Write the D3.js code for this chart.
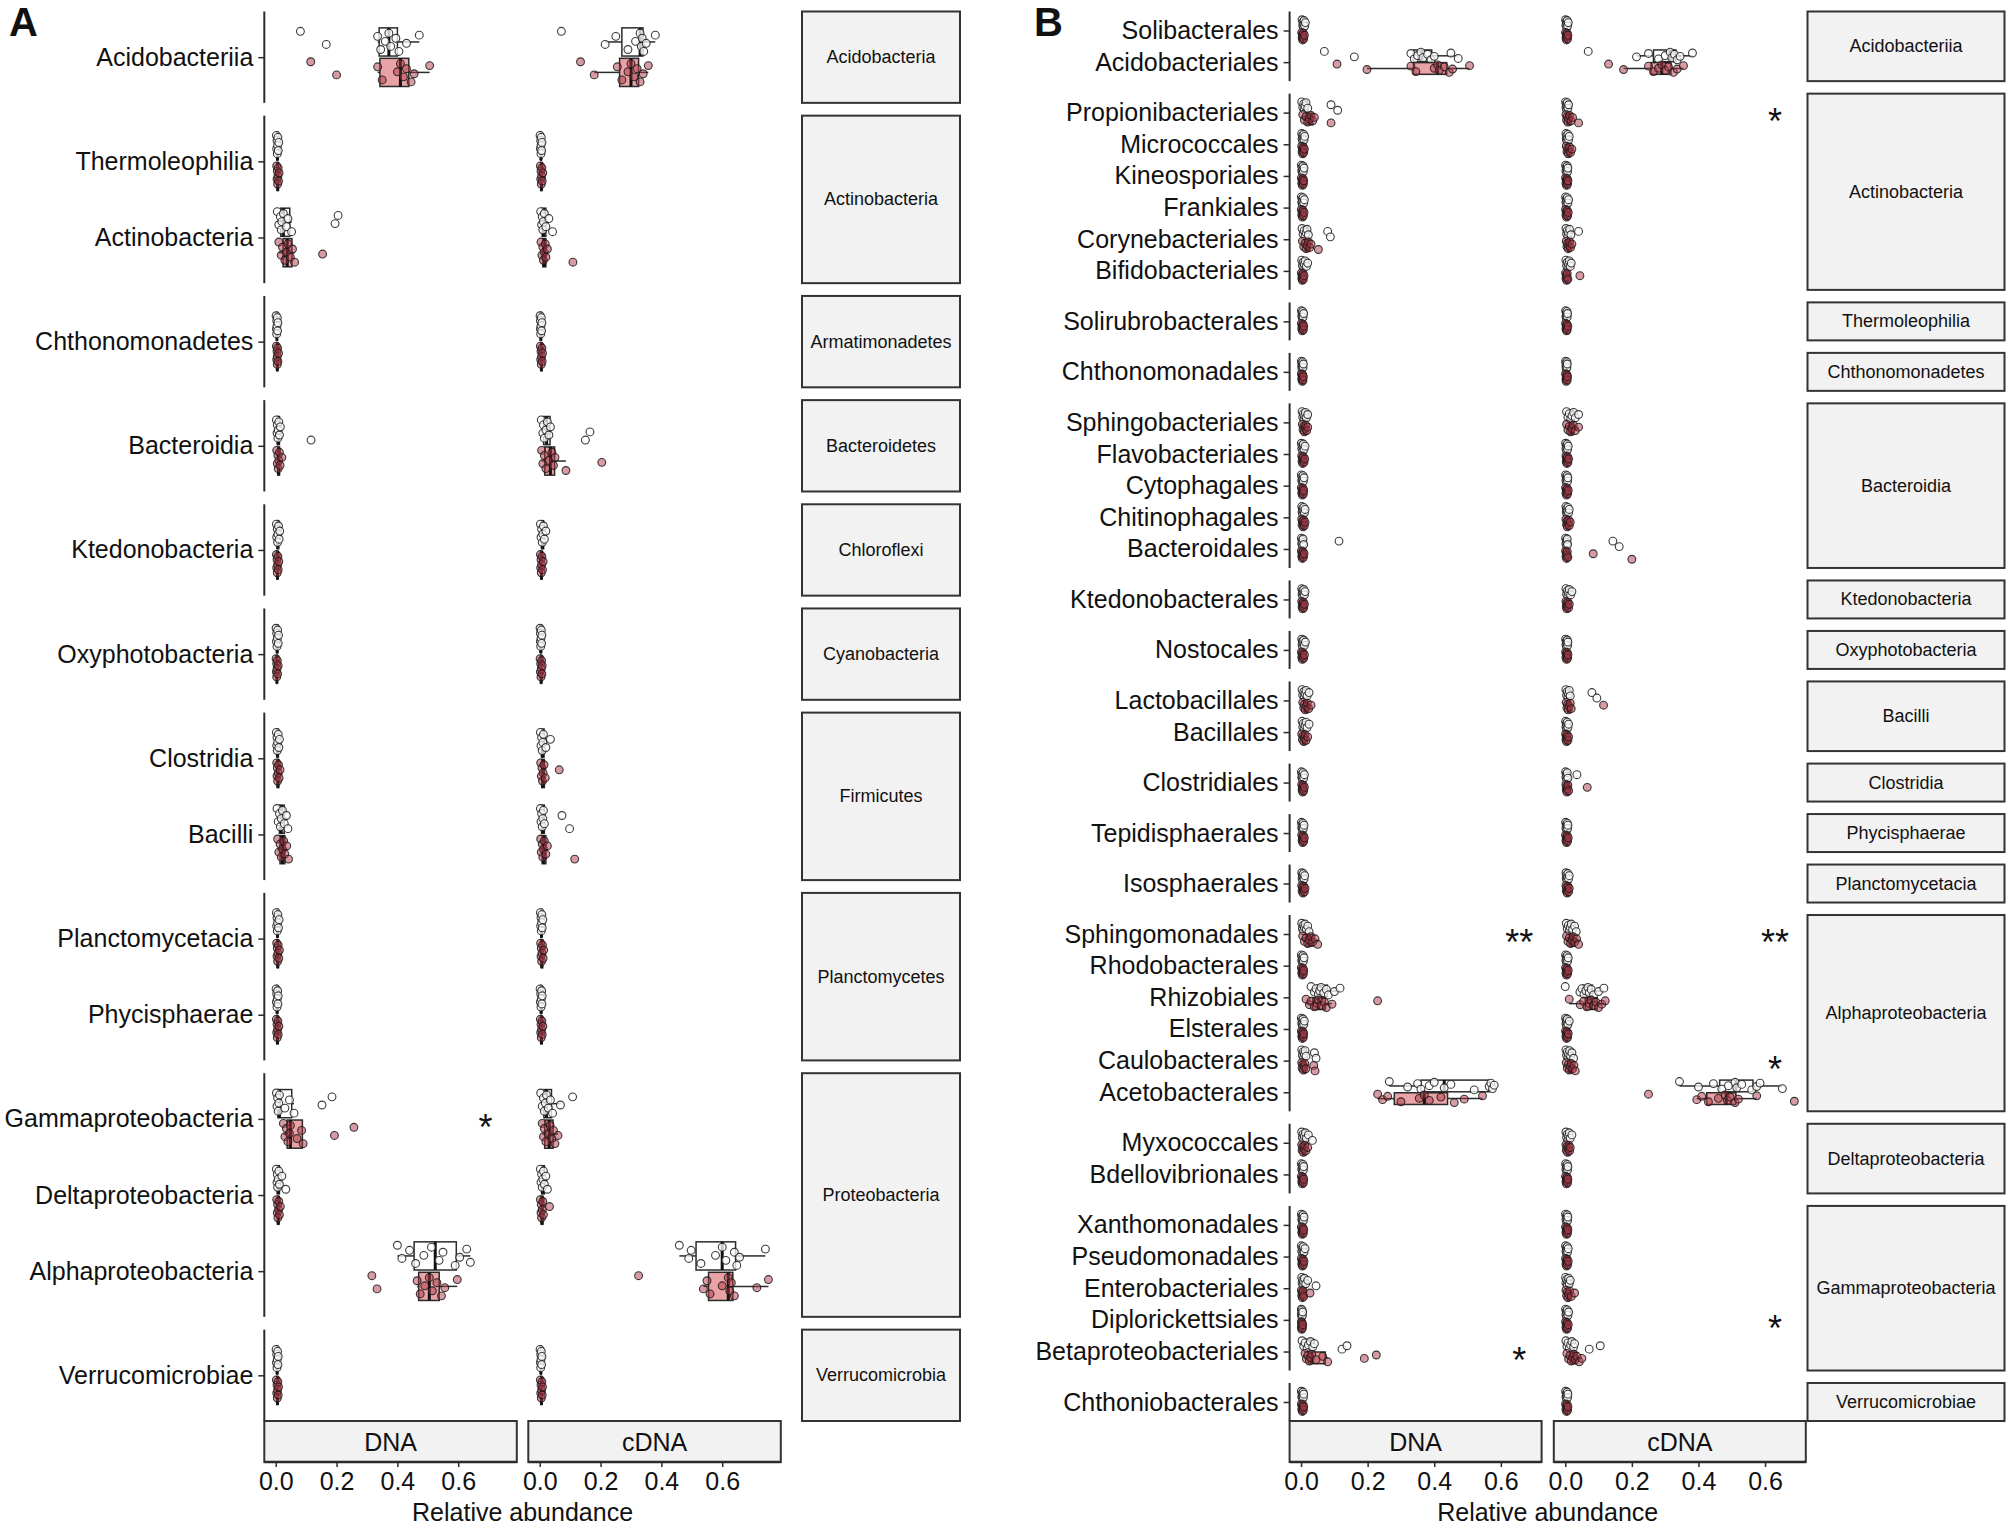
<!DOCTYPE html>
<html lang="en">
	<head>
		<meta charset="utf-8">
		<title>Relative abundance of classes and orders, DNA vs cDNA</title>
		<script type="text/javascript" src="https://cdn.jsdelivr.net/npm/d3@7/dist/d3.min.js"></script>
		<style type="text/css">
			body { margin: 0; background: #fff; }
			text { font-family: "Liberation Sans", Arial, sans-serif; fill: #111; }
		</style>
	</head>
	<body>
		<script type="text/javascript">

			//Width and height
			var w = 2013;
			var h = 1534;

			var nucleic = ["DNA", "cDNA"];
			var xTicks = [0, 0.2, 0.4, 0.6];

			// ---------- Panel A : classes ----------
			var classesA = ["Acidobacteriia", "Thermoleophilia", "Actinobacteria", "Chthonomonadetes", "Bacteroidia",
							"Ktedonobacteria", "Oxyphotobacteria", "Clostridia", "Bacilli", "Planctomycetacia",
							"Phycisphaerae", "Gammaproteobacteria", "Deltaproteobacteria", "Alphaproteobacteria", "Verrucomicrobiae"];
			var phylumA = ["Acidobacteria", "Actinobacteria", "Actinobacteria", "Armatimonadetes", "Bacteroidetes",
						   "Chloroflexi", "Cyanobacteria", "Firmicutes", "Firmicutes", "Planctomycetes",
						   "Planctomycetes", "Proteobacteria", "Proteobacteria", "Proteobacteria", "Verrucomicrobia"];

			// open (white) samples, DNA
			var dnaOpenA = [
				[0.081,0.166,0.335,0.345,0.36,0.372,0.378,0.395,0.405,0.43,0.472],
				[0.002,0.003,0.004,0.005,0.006,0.007,0.008,0.01],
				[0.005,0.01,0.015,0.018,0.02,0.025,0.035,0.04,0.052,0.195,0.205],
				[0.001,0.002,0.003,0.003,0.004,0.005,0.006,0.007],
				[0.002,0.004,0.005,0.007,0.008,0.01,0.012,0.015,0.116],
				[0.002,0.003,0.005,0.006,0.007,0.009,0.011,0.013],
				[0.001,0.002,0.003,0.004,0.005,0.006,0.008,0.009],
				[0.002,0.003,0.004,0.005,0.006,0.008,0.01,0.012],
				[0.004,0.008,0.012,0.015,0.018,0.022,0.028,0.035,0.04],
				[0.002,0.003,0.004,0.005,0.006,0.007,0.009,0.011],
				[0.001,0.002,0.003,0.004,0.005,0.006,0.007,0.008],
				[0.002,0.004,0.006,0.008,0.01,0.012,0.03,0.045,0.06,0.152,0.185],
				[0.002,0.004,0.005,0.006,0.008,0.01,0.012,0.02,0.033],
				[0.40,0.415,0.44,0.46,0.487,0.512,0.537,0.55,0.59,0.605,0.628,0.64],
				[0.001,0.002,0.003,0.004,0.005,0.006,0.007,0.008]
			];
			// filled (pink) samples, DNA
			var dnaFillA = [
				[0.115,0.20,0.335,0.35,0.40,0.41,0.42,0.43,0.445,0.455,0.506],
				[0.003,0.004,0.005,0.006,0.007,0.008,0.009,0.011],
				[0.01,0.018,0.022,0.03,0.035,0.04,0.048,0.055,0.062,0.154],
				[0.002,0.003,0.004,0.005,0.005,0.006,0.007,0.009],
				[0.003,0.005,0.007,0.008,0.01,0.012,0.014,0.02],
				[0.002,0.003,0.004,0.005,0.006,0.007,0.008,0.01],
				[0.001,0.002,0.003,0.003,0.004,0.005,0.006,0.008],
				[0.003,0.004,0.005,0.006,0.008,0.009,0.011,0.014],
				[0.006,0.01,0.014,0.018,0.022,0.026,0.03,0.036,0.042],
				[0.003,0.004,0.005,0.006,0.007,0.008,0.01,0.012],
				[0.002,0.003,0.004,0.005,0.006,0.007,0.008,0.01],
				[0.025,0.03,0.035,0.04,0.045,0.048,0.07,0.085,0.09,0.193,0.257],
				[0.003,0.005,0.006,0.007,0.009,0.01,0.012,0.015],
				[0.316,0.333,0.465,0.475,0.49,0.505,0.515,0.53,0.545,0.556,0.597],
				[0.002,0.003,0.004,0.005,0.006,0.007,0.008,0.009]
			];
			var cdnaOpenA = [
				[0.071,0.215,0.25,0.29,0.315,0.33,0.334,0.337,0.342,0.35,0.38],
				[0.001,0.002,0.003,0.004,0.004,0.005,0.006,0.007],
				[0.003,0.006,0.008,0.01,0.012,0.015,0.02,0.03,0.042],
				[0.001,0.002,0.002,0.003,0.004,0.005,0.006,0.007],
				[0.005,0.01,0.012,0.015,0.02,0.025,0.03,0.035,0.15,0.165],
				[0.002,0.004,0.006,0.008,0.01,0.012,0.015,0.02],
				[0.001,0.002,0.002,0.003,0.004,0.005,0.006,0.007],
				[0.002,0.004,0.006,0.008,0.01,0.012,0.02,0.035],
				[0.002,0.004,0.006,0.008,0.01,0.012,0.015,0.073,0.098],
				[0.002,0.003,0.004,0.005,0.006,0.007,0.008,0.01],
				[0.001,0.002,0.003,0.004,0.005,0.006,0.007,0.008],
				[0.003,0.008,0.012,0.015,0.018,0.022,0.028,0.035,0.042,0.068,0.108],
				[0.002,0.004,0.006,0.008,0.01,0.012,0.015,0.02,0.025],
				[0.459,0.49,0.498,0.53,0.578,0.60,0.612,0.64,0.648,0.657,0.742],
				[0.001,0.002,0.003,0.003,0.004,0.005,0.006,0.007]
			];
			var cdnaFillA = [
				[0.134,0.179,0.255,0.27,0.29,0.30,0.31,0.32,0.33,0.34,0.357],
				[0.002,0.003,0.004,0.005,0.006,0.007,0.008,0.01],
				[0.004,0.007,0.01,0.012,0.015,0.018,0.02,0.025,0.109],
				[0.002,0.003,0.004,0.005,0.006,0.007,0.008,0.009],
				[0.006,0.01,0.015,0.02,0.03,0.04,0.045,0.05,0.086,0.204],
				[0.002,0.003,0.004,0.005,0.006,0.007,0.009,0.011],
				[0.001,0.002,0.003,0.004,0.005,0.006,0.007,0.008],
				[0.003,0.005,0.007,0.009,0.011,0.014,0.018,0.064],
				[0.003,0.005,0.008,0.01,0.012,0.015,0.02,0.025,0.115],
				[0.003,0.004,0.005,0.006,0.007,0.009,0.011,0.013],
				[0.002,0.003,0.004,0.005,0.006,0.007,0.008,0.01],
				[0.008,0.012,0.015,0.02,0.028,0.034,0.04,0.045,0.05,0.06],
				[0.002,0.004,0.005,0.006,0.008,0.01,0.012,0.032],
				[0.325,0.538,0.55,0.56,0.6,0.62,0.625,0.63,0.64,0.714,0.752],
				[0.002,0.003,0.004,0.005,0.006,0.007,0.008,0.009]
			];
			var starsA = [["Gammaproteobacteria", "DNA", "*"]];

			// ---------- Panel B : orders ----------
			var ordersB = ["Solibacterales", "Acidobacteriales", "Propionibacteriales", "Micrococcales", "Kineosporiales",
						   "Frankiales", "Corynebacteriales", "Bifidobacteriales", "Solirubrobacterales", "Chthonomonadales",
						   "Sphingobacteriales", "Flavobacteriales", "Cytophagales", "Chitinophagales", "Bacteroidales",
						   "Ktedonobacterales", "Nostocales", "Lactobacillales", "Bacillales", "Clostridiales",
						   "Tepidisphaerales", "Isosphaerales", "Sphingomonadales", "Rhodobacterales", "Rhizobiales",
						   "Elsterales", "Caulobacterales", "Acetobacterales", "Myxococcales", "Bdellovibrionales",
						   "Xanthomonadales", "Pseudomonadales", "Enterobacteriales", "Diplorickettsiales", "Betaproteobacteriales",
						   "Chthoniobacterales"];
			var classB = ["Acidobacteriia", "Acidobacteriia", "Actinobacteria", "Actinobacteria", "Actinobacteria",
						  "Actinobacteria", "Actinobacteria", "Actinobacteria", "Thermoleophilia", "Chthonomonadetes",
						  "Bacteroidia", "Bacteroidia", "Bacteroidia", "Bacteroidia", "Bacteroidia",
						  "Ktedonobacteria", "Oxyphotobacteria", "Bacilli", "Bacilli", "Clostridia",
						  "Phycisphaerae", "Planctomycetacia", "Alphaproteobacteria", "Alphaproteobacteria", "Alphaproteobacteria",
						  "Alphaproteobacteria", "Alphaproteobacteria", "Alphaproteobacteria", "Deltaproteobacteria", "Deltaproteobacteria",
						  "Gammaproteobacteria", "Gammaproteobacteria", "Gammaproteobacteria", "Gammaproteobacteria", "Gammaproteobacteria",
						  "Verrucomicrobiae"];

			var dnaOpenB = [
				[0.003,0.005,0.006,0.007,0.008,0.009,0.011,0.013],
				[0.07,0.16,0.33,0.34,0.35,0.36,0.366,0.38,0.39,0.40,0.45,0.472],
				[0.002,0.005,0.008,0.01,0.012,0.015,0.02,0.09,0.11],
				[0.002,0.003,0.004,0.005,0.006,0.008,0.009,0.011],
				[0.001,0.002,0.003,0.004,0.005,0.006,0.007,0.009],
				[0.001,0.002,0.003,0.004,0.005,0.006,0.008,0.01],
				[0.003,0.006,0.009,0.012,0.015,0.018,0.022,0.08,0.088],
				[0.002,0.004,0.006,0.008,0.01,0.012,0.016,0.02],
				[0.001,0.002,0.003,0.004,0.005,0.005,0.006,0.008],
				[0.001,0.002,0.002,0.003,0.004,0.005,0.006,0.007],
				[0.003,0.005,0.007,0.009,0.011,0.013,0.016,0.02],
				[0.001,0.002,0.003,0.005,0.006,0.007,0.009,0.012],
				[0.001,0.002,0.003,0.004,0.005,0.006,0.007,0.009],
				[0.002,0.003,0.004,0.005,0.006,0.008,0.01,0.012],
				[0.001,0.002,0.003,0.004,0.005,0.006,0.008,0.114],
				[0.002,0.003,0.004,0.005,0.006,0.008,0.01,0.012],
				[0.002,0.003,0.004,0.005,0.006,0.008,0.01,0.013],
				[0.003,0.005,0.008,0.01,0.012,0.015,0.018,0.024],
				[0.003,0.005,0.007,0.009,0.012,0.015,0.018,0.024],
				[0.001,0.002,0.003,0.004,0.005,0.006,0.008,0.01],
				[0.001,0.002,0.003,0.004,0.005,0.006,0.007,0.009],
				[0.002,0.003,0.004,0.005,0.006,0.007,0.009,0.011],
				[0.002,0.004,0.006,0.008,0.01,0.012,0.016,0.02,0.024],
				[0.001,0.002,0.003,0.004,0.005,0.006,0.007,0.009],
				[0.03,0.04,0.045,0.052,0.056,0.06,0.068,0.076,0.082,0.1,0.117],
				[0.001,0.002,0.003,0.004,0.005,0.006,0.008,0.01],
				[0.002,0.004,0.006,0.008,0.01,0.012,0.015,0.04,0.045],
				[0.265,0.32,0.35,0.36,0.385,0.40,0.43,0.45,0.52,0.565,0.57,0.575,0.58],
				[0.002,0.004,0.006,0.008,0.01,0.013,0.016,0.022,0.034],
				[0.001,0.002,0.003,0.004,0.005,0.006,0.007,0.008],
				[0.001,0.002,0.003,0.004,0.005,0.006,0.007,0.009],
				[0.001,0.002,0.003,0.005,0.006,0.007,0.009,0.012],
				[0.002,0.003,0.005,0.006,0.008,0.01,0.014,0.02,0.045],
				[0.001,0.001,0.002,0.002,0.003,0.003,0.004,0.005],
				[0.003,0.008,0.012,0.018,0.022,0.028,0.035,0.04,0.123,0.138],
				[0.001,0.002,0.003,0.004,0.005,0.006,0.007,0.008]
			];
			var dnaFillB = [
				[0.002,0.003,0.004,0.005,0.006,0.007,0.008,0.01],
				[0.108,0.198,0.33,0.345,0.40,0.41,0.415,0.43,0.445,0.455,0.506],
				[0.005,0.01,0.015,0.02,0.025,0.03,0.035,0.04,0.09],
				[0.002,0.003,0.004,0.005,0.006,0.007,0.008,0.01],
				[0.001,0.002,0.003,0.004,0.005,0.006,0.007,0.008],
				[0.001,0.002,0.003,0.004,0.005,0.006,0.007,0.009],
				[0.004,0.008,0.012,0.015,0.018,0.022,0.026,0.03,0.052],
				[0.001,0.002,0.003,0.004,0.005,0.006,0.007,0.009],
				[0.001,0.002,0.003,0.004,0.005,0.006,0.007,0.008],
				[0.001,0.002,0.003,0.004,0.004,0.005,0.006,0.007],
				[0.004,0.006,0.008,0.01,0.012,0.014,0.017,0.02],
				[0.002,0.003,0.004,0.005,0.006,0.007,0.009,0.011],
				[0.001,0.002,0.003,0.004,0.005,0.006,0.007,0.008],
				[0.002,0.003,0.004,0.006,0.007,0.008,0.01,0.012],
				[0.001,0.002,0.003,0.004,0.005,0.006,0.007,0.009],
				[0.002,0.003,0.004,0.005,0.006,0.007,0.008,0.01],
				[0.001,0.002,0.003,0.004,0.005,0.006,0.008,0.01],
				[0.005,0.008,0.01,0.013,0.016,0.019,0.023,0.03],
				[0.002,0.004,0.006,0.008,0.01,0.012,0.015,0.02],
				[0.002,0.003,0.004,0.005,0.006,0.007,0.008,0.01],
				[0.002,0.003,0.004,0.005,0.006,0.007,0.008,0.01],
				[0.002,0.003,0.004,0.006,0.007,0.008,0.01,0.012],
				[0.005,0.01,0.015,0.02,0.025,0.03,0.035,0.042,0.05],
				[0.001,0.002,0.003,0.004,0.005,0.006,0.007,0.008],
				[0.015,0.025,0.03,0.04,0.048,0.052,0.06,0.07,0.076,0.093,0.23],
				[0.001,0.002,0.003,0.004,0.005,0.006,0.007,0.008],
				[0.002,0.003,0.005,0.007,0.009,0.011,0.014,0.038,0.042],
				[0.23,0.245,0.26,0.30,0.355,0.37,0.385,0.42,0.46,0.49,0.545],
				[0.002,0.003,0.005,0.007,0.009,0.011,0.014,0.02],
				[0.001,0.002,0.003,0.004,0.005,0.006,0.007,0.008],
				[0.001,0.002,0.003,0.004,0.005,0.006,0.007,0.008],
				[0.001,0.002,0.003,0.004,0.005,0.006,0.007,0.009],
				[0.001,0.002,0.003,0.004,0.005,0.006,0.008,0.027],
				[0.001,0.001,0.002,0.002,0.003,0.003,0.004,0.005],
				[0.012,0.016,0.02,0.025,0.028,0.032,0.045,0.065,0.08,0.19,0.226],
				[0.001,0.002,0.003,0.004,0.005,0.006,0.007,0.008]
			];
			var cdnaOpenB = [
				[0.001,0.002,0.003,0.004,0.005,0.006,0.007,0.009],
				[0.069,0.214,0.25,0.28,0.30,0.315,0.32,0.328,0.336,0.345,0.382],
				[0.001,0.002,0.003,0.004,0.005,0.006,0.008,0.01],
				[0.002,0.003,0.004,0.005,0.006,0.008,0.01,0.012],
				[0.001,0.002,0.003,0.004,0.005,0.006,0.007,0.008],
				[0.001,0.002,0.003,0.004,0.005,0.006,0.008,0.01],
				[0.002,0.004,0.006,0.008,0.01,0.013,0.017,0.04],
				[0.002,0.004,0.006,0.008,0.01,0.012,0.015,0.018],
				[0.001,0.002,0.003,0.003,0.004,0.005,0.006,0.007],
				[0.001,0.002,0.002,0.003,0.004,0.005,0.005,0.006],
				[0.004,0.008,0.012,0.016,0.02,0.025,0.03,0.04],
				[0.001,0.002,0.003,0.004,0.005,0.006,0.007,0.009],
				[0.001,0.002,0.003,0.004,0.005,0.006,0.007,0.008],
				[0.002,0.003,0.004,0.005,0.006,0.008,0.01,0.012],
				[0.001,0.002,0.003,0.004,0.005,0.006,0.007,0.143,0.162],
				[0.002,0.004,0.006,0.008,0.01,0.012,0.016,0.02],
				[0.001,0.002,0.003,0.004,0.005,0.006,0.007,0.008],
				[0.002,0.004,0.006,0.008,0.01,0.012,0.015,0.08,0.095],
				[0.001,0.002,0.003,0.004,0.005,0.006,0.008,0.01],
				[0.001,0.002,0.003,0.004,0.005,0.006,0.008,0.035],
				[0.001,0.002,0.003,0.004,0.005,0.006,0.007,0.008],
				[0.002,0.003,0.004,0.005,0.006,0.008,0.01,0.012],
				[0.003,0.006,0.009,0.012,0.015,0.018,0.022,0.028,0.033],
				[0.001,0.002,0.003,0.004,0.005,0.006,0.007,0.009],
				[0.0,0.044,0.05,0.056,0.062,0.068,0.072,0.078,0.085,0.1,0.116],
				[0.001,0.002,0.003,0.004,0.005,0.006,0.008,0.012],
				[0.002,0.004,0.006,0.008,0.01,0.013,0.016,0.02,0.025],
				[0.343,0.40,0.445,0.47,0.49,0.51,0.515,0.53,0.56,0.575,0.585,0.652],
				[0.002,0.004,0.006,0.008,0.01,0.012,0.015,0.02],
				[0.001,0.002,0.003,0.004,0.005,0.006,0.007,0.008],
				[0.001,0.002,0.003,0.004,0.005,0.006,0.007,0.008],
				[0.001,0.002,0.003,0.004,0.005,0.006,0.007,0.009],
				[0.001,0.002,0.004,0.006,0.008,0.01,0.012,0.015],
				[0.001,0.002,0.003,0.004,0.005,0.006,0.008,0.01],
				[0.002,0.005,0.008,0.012,0.016,0.02,0.025,0.028,0.072,0.105],
				[0.001,0.002,0.003,0.004,0.005,0.006,0.007,0.008]
			];
			var cdnaFillB = [
				[0.001,0.002,0.003,0.004,0.005,0.006,0.007,0.008],
				[0.13,0.175,0.25,0.265,0.28,0.29,0.30,0.31,0.325,0.336,0.355],
				[0.002,0.004,0.006,0.008,0.01,0.013,0.017,0.022,0.04],
				[0.003,0.005,0.007,0.009,0.011,0.013,0.016,0.02],
				[0.001,0.002,0.003,0.004,0.005,0.006,0.007,0.008],
				[0.001,0.002,0.003,0.004,0.005,0.006,0.007,0.009],
				[0.003,0.005,0.007,0.009,0.011,0.013,0.016,0.02],
				[0.001,0.002,0.003,0.004,0.005,0.006,0.008,0.044],
				[0.001,0.002,0.003,0.004,0.004,0.005,0.006,0.008],
				[0.001,0.002,0.003,0.003,0.004,0.005,0.006,0.007],
				[0.004,0.008,0.012,0.016,0.02,0.024,0.03,0.04],
				[0.002,0.003,0.004,0.005,0.006,0.007,0.008,0.01],
				[0.001,0.002,0.003,0.004,0.005,0.006,0.007,0.009],
				[0.002,0.004,0.005,0.006,0.008,0.01,0.012,0.015],
				[0.001,0.002,0.003,0.004,0.005,0.006,0.008,0.084,0.2],
				[0.002,0.003,0.004,0.005,0.006,0.008,0.01,0.012],
				[0.001,0.002,0.003,0.004,0.005,0.006,0.007,0.008],
				[0.003,0.005,0.007,0.009,0.012,0.015,0.018,0.115],
				[0.001,0.002,0.003,0.004,0.005,0.006,0.008,0.01],
				[0.002,0.003,0.004,0.005,0.006,0.008,0.01,0.066],
				[0.001,0.002,0.003,0.004,0.005,0.006,0.007,0.009],
				[0.002,0.003,0.004,0.006,0.007,0.008,0.01,0.012],
				[0.004,0.008,0.012,0.016,0.02,0.024,0.028,0.034,0.04],
				[0.001,0.002,0.003,0.004,0.005,0.006,0.007,0.009],
				[0.012,0.045,0.055,0.065,0.072,0.078,0.085,0.092,0.1,0.11,0.12],
				[0.001,0.002,0.003,0.004,0.005,0.006,0.007,0.009],
				[0.003,0.006,0.009,0.012,0.015,0.018,0.022,0.026,0.03],
				[0.25,0.395,0.41,0.43,0.46,0.48,0.487,0.495,0.51,0.52,0.575,0.688],
				[0.002,0.003,0.005,0.007,0.009,0.011,0.013,0.015],
				[0.001,0.002,0.003,0.004,0.005,0.006,0.007,0.008],
				[0.001,0.002,0.003,0.004,0.005,0.006,0.007,0.008],
				[0.001,0.002,0.003,0.004,0.005,0.006,0.007,0.009],
				[0.002,0.004,0.006,0.008,0.01,0.013,0.018,0.028],
				[0.001,0.002,0.003,0.004,0.005,0.006,0.007,0.009],
				[0.005,0.01,0.014,0.018,0.022,0.026,0.03,0.035,0.042,0.05],
				[0.001,0.002,0.003,0.004,0.005,0.006,0.007,0.008]
			];
			var starsB = [["Propionibacteriales", "cDNA", "*"], ["Sphingomonadales", "DNA", "**"],
						  ["Sphingomonadales", "cDNA", "**"], ["Caulobacterales", "cDNA", "*"],
						  ["Diplorickettsiales", "cDNA", "*"], ["Betaproteobacteriales", "DNA", "*"]];

			//Create SVG element
			var svg = d3.select("body")
						.append("svg")
						.attr("width", w)
						.attr("height", h);

			var boxFill = "#e9a2a5";
			var pointFill = "#b03a48";
			var lineCol = "#2b2b2b";

			// quartiles and whisker ends, same rule as a ggplot boxplot
			function boxStats(vals) {
				var s = vals.slice().sort(d3.ascending);
				var q1 = d3.quantile(s, 0.25), med = d3.quantile(s, 0.5), q3 = d3.quantile(s, 0.75);
				var iqr = q3 - q1;
				var inside = s.filter(function(v) { return v >= q1 - 1.5 * iqr && v <= q3 + 1.5 * iqr; });
				return { q1: q1, med: med, q3: q3, lo: d3.min(inside), hi: d3.max(inside) };
			}

			function drawPanel(cfg) {
				var g = svg.append("g");

				// group the categories into facet rows, keeping order
				var rows = d3.groups(cfg.cats.map(function(c, i) { return { name: c, i: i, facet: cfg.facetOf[i] }; }),
									 function(d) { return d.facet; });
				var nCats = cfg.cats.length;
				var unit = (cfg.bottom - cfg.top - cfg.gapY * (rows.length - 1)) / (nCats + 0.2 * rows.length);

				// x scales for the DNA and cDNA columns
				var xScales = nucleic.map(function(n, k) {
					var x0 = cfg.left + k * (cfg.panelW + cfg.gapX);
					return d3.scaleLinear()
							 .domain([-0.05 * cfg.xMax, 1.05 * cfg.xMax])
							 .range([x0, x0 + cfg.panelW]);
				});
				var series = [[cfg.dnaOpen, cfg.dnaFill], [cfg.cdnaOpen, cfg.cdnaFill]];

				var yTop = cfg.top;
				var catY = {};
				rows.forEach(function(row) {
					var items = row[1];
					var ph = (items.length + 0.2) * unit;
					var yScale = d3.scalePoint()
								   .domain(items.map(function(d) { return d.name; }))
								   .range([yTop, yTop + ph])
								   .padding(0.6);

					// y axis of this facet row
					var yAxis = d3.axisLeft(yScale).tickSize(6).tickPadding(5);
					var ga = g.append("g")
							  .attr("transform", "translate(" + cfg.left + ",0)")
							  .call(yAxis);
					ga.select(".domain").attr("stroke", lineCol).attr("stroke-width", 2)
					  .attr("d", "M0," + yTop + "V" + (yTop + ph));
					ga.selectAll(".tick line").attr("stroke", lineCol).attr("stroke-width", 1.5);
					ga.selectAll(".tick text")
					  .attr("font-size", "25px")
					  .attr("fill", "#111")
					  .attr("font-family", "'Liberation Sans', Arial, sans-serif");

					// facet strip on the right
					g.append("rect")
					 .attr("x", cfg.stripX0)
					 .attr("y", yTop)
					 .attr("width", cfg.stripX1 - cfg.stripX0)
					 .attr("height", ph)
					 .attr("fill", "#f2f2f2")
					 .attr("stroke", "#333")
					 .attr("stroke-width", 2);
					g.append("text")
					 .attr("x", (cfg.stripX0 + cfg.stripX1) / 2)
					 .attr("y", yTop + ph / 2)
					 .attr("text-anchor", "middle")
					 .attr("dominant-baseline", "central")
					 .attr("font-size", "18px")
					 .text(row[0]);

					items.forEach(function(d) { catY[d.name] = yScale(d.name); });

					// boxes and points for each category
					items.forEach(function(d) {
						var cy = yScale(d.name);
						nucleic.forEach(function(n, k) {
							var x = xScales[k];
							[0, 1].forEach(function(grp) {
								var vals = series[k][grp][d.i];
								var st = boxStats(vals);
								var gy = cy + (grp === 0 ? -0.2 : 0.2) * unit;
								var bh = 0.37 * unit;
								var gb = g.append("g");

								gb.selectAll("line.wh")
								  .data([[st.lo, st.q1], [st.q3, st.hi]])
								  .enter()
								  .append("line")
								  .attr("x1", function(p) { return x(p[0]); })
								  .attr("x2", function(p) { return x(p[1]); })
								  .attr("y1", gy)
								  .attr("y2", gy)
								  .attr("stroke", lineCol)
								  .attr("stroke-width", 1.5);

								gb.append("rect")
								  .attr("x", x(st.q1))
								  .attr("y", gy - bh / 2)
								  .attr("width", Math.max(x(st.q3) - x(st.q1), 0.5))
								  .attr("height", bh)
								  .attr("fill", grp === 0 ? "#ffffff" : boxFill)
								  .attr("stroke", lineCol)
								  .attr("stroke-width", 1.5);

								gb.append("line")
								  .attr("x1", x(st.med))
								  .attr("x2", x(st.med))
								  .attr("y1", gy - bh / 2)
								  .attr("y2", gy + bh / 2)
								  .attr("stroke", "#111")
								  .attr("stroke-width", 3);

								gb.selectAll("circle")
								  .data(vals)
								  .enter()
								  .append("circle")
								  .attr("cx", function(v) { return x(v); })
								  .attr("cy", function(v, i) {
									  // spread points vertically inside the group band
									  return gy + ((i * 0.618034) % 1 - 0.5) * 0.28 * unit;
								  })
								  .attr("r", 3.9)
								  .attr("fill", grp === 0 ? "#ffffff" : pointFill)
								  .attr("fill-opacity", grp === 0 ? 0.75 : 0.5)
								  .attr("stroke", "#1a1a1a")
								  .attr("stroke-opacity", 0.85)
								  .attr("stroke-width", 1.1);
							});
						});
					});

					yTop += ph + cfg.gapY;
				});

				// significance marks
				g.selectAll("text.star")
				 .data(cfg.stars)
				 .enter()
				 .append("text")
				 .attr("x", function(s) {
					 var k = nucleic.indexOf(s[1]);
					 return xScales[k](cfg.starX[k]);
				 })
				 .attr("y", function(s) { return catY[s[0]] + 21; })
				 .attr("text-anchor", "middle")
				 .attr("font-size", "36px")
				 .text(function(s) { return s[2]; });

				// bottom strips and x axes
				nucleic.forEach(function(n, k) {
					var x = xScales[k];
					var r = x.range();
					g.append("rect")
					 .attr("x", r[0])
					 .attr("y", cfg.bottom)
					 .attr("width", r[1] - r[0])
					 .attr("height", 41)
					 .attr("fill", "#f2f2f2")
					 .attr("stroke", "#333")
					 .attr("stroke-width", 2);
					g.append("text")
					 .attr("x", (r[0] + r[1]) / 2)
					 .attr("y", cfg.bottom + 21)
					 .attr("text-anchor", "middle")
					 .attr("dominant-baseline", "central")
					 .attr("font-size", "25px")
					 .text(n);

					var xa = g.append("g")
							  .attr("transform", "translate(0," + (cfg.bottom + 41) + ")")
							  .call(d3.axisBottom(x).tickValues(xTicks).tickFormat(d3.format(".1f")).tickSize(5).tickPadding(5));
					xa.select(".domain").attr("stroke", lineCol).attr("stroke-width", 2.5)
					  .attr("d", "M" + r[0] + ",0H" + r[1]);
					xa.selectAll(".tick line").attr("stroke", lineCol).attr("stroke-width", 1.5);
					xa.selectAll(".tick text")
					  .attr("font-size", "25px")
					  .attr("fill", "#111")
					  .attr("font-family", "'Liberation Sans', Arial, sans-serif");
				});

				g.append("text")
				 .attr("x", (xScales[0].range()[0] + xScales[1].range()[1]) / 2)
				 .attr("y", 1521)
				 .attr("text-anchor", "middle")
				 .attr("font-size", "25px")
				 .text("Relative abundance");

				g.append("text")
				 .attr("x", cfg.tagX)
				 .attr("y", 36)
				 .attr("font-size", "40px")
				 .attr("font-weight", "bold")
				 .attr("fill", "#000")
				 .text(cfg.tag);
			}

			drawPanel({
				tag: "A", tagX: 9,
				cats: classesA, facetOf: phylumA,
				dnaOpen: dnaOpenA, dnaFill: dnaFillA, cdnaOpen: cdnaOpenA, cdnaFill: cdnaFillA,
				stars: starsA, starX: [0.69, 0.69],
				left: 264.3, panelW: 252.5, gapX: 11.5, xMax: 0.755,
				top: 11.5, bottom: 1421, gapY: 12.8,
				stripX0: 802, stripX1: 960
			});

			drawPanel({
				tag: "B", tagX: 1034,
				cats: ordersB, facetOf: classB,
				dnaOpen: dnaOpenB, dnaFill: dnaFillB, cdnaOpen: cdnaOpenB, cdnaFill: cdnaFillB,
				stars: starsB, starX: [0.655, 0.63],
				left: 1289.6, panelW: 252, gapX: 12.2, xMax: 0.688,
				top: 11.5, bottom: 1421, gapY: 12.5,
				stripX0: 1807.5, stripX1: 2004.5
			});

		</script>
	</body>
</html>
